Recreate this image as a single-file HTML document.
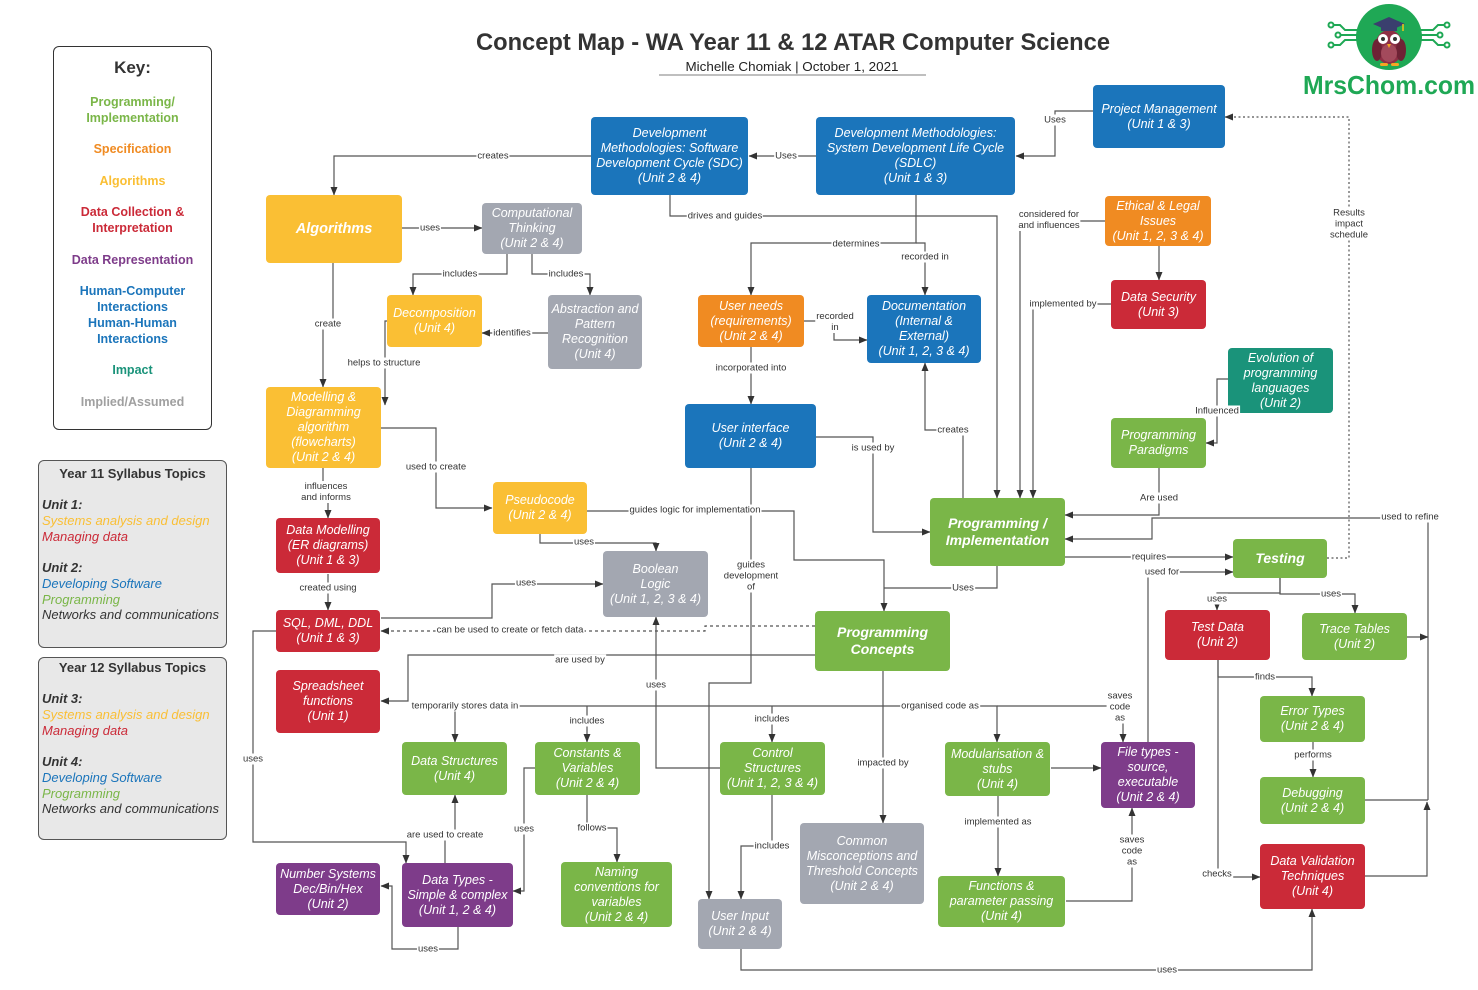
<!DOCTYPE html>
<html><head><meta charset="utf-8">
<style>
body{margin:0;width:1478px;height:990px;background:#fff;position:relative;overflow:hidden;font-family:"Liberation Sans",Arial,sans-serif}
svg{position:absolute;left:0;top:0}
.n{position:absolute;box-sizing:border-box;border-radius:4px;color:#fff;font-style:italic;font-size:12.5px;line-height:15px;display:flex;align-items:center;justify-content:center;text-align:center}
.B{font-weight:bold;font-size:14px;line-height:17px}
.bl{background:#1b75bb}.ye{background:#fabf34}.or{background:#f08b22}.rd{background:#cb2a38}
.pu{background:#7e3c8a}.gr{background:#7ab648}.gy{background:#a3a7b1}.te{background:#1a937a}
.l{position:absolute;transform:translate(-50%,-50%);background:#fff;font-size:9.5px;line-height:11px;color:#333;white-space:nowrap;text-align:center;padding:0 1px}
.key{position:absolute;left:53px;top:46px;width:159px;height:384px;box-sizing:border-box;border:1.5px solid #333;border-radius:6px}
.kt{position:absolute;left:53px;width:159px;text-align:center;font-weight:bold;font-size:12.5px;line-height:16px}
.yb{position:absolute;left:38px;width:189px;box-sizing:border-box;border:1.5px solid #555;border-radius:6px;background:#e8e8e8}
.yt{position:absolute;left:38px;width:189px;text-align:center;font-weight:bold;font-size:13px;line-height:16px;color:#333}
.yl{position:absolute;left:42px;font-style:italic;font-size:13px;line-height:15.75px;color:#333;white-space:nowrap}
</style></head><body>
<svg width="1478" height="990" viewBox="0 0 1478 990">
<defs><marker id="a" markerWidth="9" markerHeight="8" refX="8" refY="4" orient="auto" markerUnits="userSpaceOnUse"><path d="M0,0.5 L8.5,4 L0,7.5z" fill="#333"/></marker></defs>
<text x="793" y="50" text-anchor="middle" font-family="Liberation Sans, Arial, sans-serif" font-size="24" font-weight="bold" fill="#333" textLength="634" lengthAdjust="spacingAndGlyphs">Concept Map - WA Year 11 &amp; 12 ATAR Computer Science</text>
<text x="792" y="71" text-anchor="middle" font-family="Liberation Sans, Arial, sans-serif" font-size="13" fill="#222" textLength="213" lengthAdjust="spacingAndGlyphs">Michelle Chomiak  |  October 1, 2021</text>
<line x1="659" y1="75" x2="926" y2="75" stroke="#999" stroke-width="1.2"/>
<!-- logo -->
<g stroke="#1fa855" stroke-width="2" fill="none">
<path d="M1357,30 H1345 L1340,25 H1333"/><path d="M1357,40 H1345 L1340,45 H1333"/><path d="M1357,35 H1340"/>
<path d="M1421,30 H1433 L1438,25 H1445"/><path d="M1421,40 H1433 L1438,45 H1445"/><path d="M1421,35 H1438"/>
<circle cx="1331" cy="25" r="2.5"/><circle cx="1331" cy="45" r="2.5"/><circle cx="1338" cy="35" r="2.5"/>
<circle cx="1447" cy="25" r="2.5"/><circle cx="1447" cy="45" r="2.5"/><circle cx="1440" cy="35" r="2.5"/>
</g>
<circle cx="1389" cy="37" r="33" fill="#1fa855"/>
<ellipse cx="1389" cy="47" rx="14" ry="17" fill="#8e2f45"/>
<ellipse cx="1377" cy="50" rx="5" ry="11" fill="#6e2235"/><ellipse cx="1401" cy="50" rx="5" ry="11" fill="#6e2235"/>
<ellipse cx="1389" cy="53" rx="8" ry="9" fill="#a34a5c"/>
<circle cx="1383" cy="39" r="5" fill="#fff"/><circle cx="1395" cy="39" r="5" fill="#fff"/>
<circle cx="1383" cy="39" r="2" fill="#333"/><circle cx="1395" cy="39" r="2" fill="#333"/>
<path d="M1387,44 L1391,44 L1389,48z" fill="#f5a623"/>
<path d="M1373,24 L1389,17 L1405,24 L1389,31z" fill="#3a3f6e"/><rect x="1381" y="26" width="16" height="5" fill="#3a3f6e"/>
<path d="M1403,24 V31" stroke="#f5c518" stroke-width="1.5"/>
<rect x="1380" y="63" width="8" height="3" rx="1.5" fill="#f5a623"/><rect x="1391" y="63" width="8" height="3" rx="1.5" fill="#f5a623"/>
<text x="1389" y="94" text-anchor="middle" font-family="Liberation Sans, Arial, sans-serif" font-size="26" font-weight="bold" fill="#1fa855" textLength="172" lengthAdjust="spacingAndGlyphs">MrsChom.com</text>

<g stroke="#555" stroke-width="1.2" fill="none">
<path d="M591,156 H334 V195" marker-end="url(#a)"/>
<path d="M816,156 H749" marker-end="url(#a)"/>
<path d="M1093,111 H1055 V156 H1016" marker-end="url(#a)"/>
<path d="M402,228 H482" marker-end="url(#a)"/>
<path d="M507,254 V274 H413 V295" marker-end="url(#a)"/>
<path d="M532,254 V274 H590 V295" marker-end="url(#a)"/>
<path d="M548,333 H482" marker-end="url(#a)"/>
<path d="M333,263 V320 H323 V387" marker-end="url(#a)"/>
<path d="M387,321 H385 V405" marker-end="url(#a)"/>
<path d="M381,428 H436 V508 H492" marker-end="url(#a)"/>
<path d="M323,468 V490 H328 V518" marker-end="url(#a)"/>
<path d="M328,574 V610" marker-end="url(#a)"/>
<path d="M381,618 H492 V584 H603" marker-end="url(#a)"/>
<path d="M815,626 H705 V631 H381" stroke-dasharray="3,3" marker-end="url(#a)"/>
<path d="M540,534 V543 H656 V551" marker-end="url(#a)"/>
<path d="M587,511 H794 V560 H884 V611" marker-end="url(#a)"/>
<path d="M997,566 V588 H884"/>
<path d="M751,347 V404" marker-end="url(#a)"/>
<path d="M916,195 V243 H751 V295" marker-end="url(#a)"/>
<path d="M916,243 H925 V295" marker-end="url(#a)"/>
<path d="M804,321 H834 V340 H867" marker-end="url(#a)"/>
<path d="M963,498 V430 H925 V363" marker-end="url(#a)"/>
<path d="M816,437 H873 V532 H930" marker-end="url(#a)"/>
<path d="M670,195 V216 H997 V498" marker-end="url(#a)"/>
<path d="M1105,221 H1020 V498" marker-end="url(#a)"/>
<path d="M1111,304 H1033 V498" marker-end="url(#a)"/>
<path d="M1159,246 V280" marker-end="url(#a)"/>
<path d="M1159,468 V515 H1065" marker-end="url(#a)"/>
<path d="M1228,379 H1217 V443 H1206" marker-end="url(#a)"/>
<path d="M1428,800 V518 H1152 V539 H1065" marker-end="url(#a)"/>
<path d="M1365,800 H1428"/>
<path d="M1365,876 H1427 V802" marker-end="url(#a)"/>
<path d="M1407,637 H1428" marker-end="url(#a)"/>
<path d="M1065,557 H1233" marker-end="url(#a)"/>
<path d="M1148,742 V572 H1233" marker-end="url(#a)"/>
<path d="M1327,558 H1349 V117 H1225" stroke-dasharray="2,2.5" marker-end="url(#a)"/>
<path d="M1280,578 V593 H1217 V610" marker-end="url(#a)"/>
<path d="M1280,578 V594 H1355 V613" marker-end="url(#a)"/>
<path d="M1218,660 V677 H1312 V696" marker-end="url(#a)"/>
<path d="M1313,742 V777" marker-end="url(#a)"/>
<path d="M1218,660 V877 H1260" marker-end="url(#a)"/>
<path d="M751,468 V683 H709 V899" marker-end="url(#a)"/>
<path d="M741,949 V970 H1312 V909" marker-end="url(#a)"/>
<path d="M883,671 V823" marker-end="url(#a)"/>
<path d="M883,706 H455 V742" marker-end="url(#a)"/>
<path d="M587,706 V742" marker-end="url(#a)"/>
<path d="M772,706 V742" marker-end="url(#a)"/>
<path d="M883,706 H997 V742" marker-end="url(#a)"/>
<path d="M997,706 H1123 V742" marker-end="url(#a)"/>
<path d="M1051,768 H1101" marker-end="url(#a)"/>
<path d="M998,795 V876" marker-end="url(#a)"/>
<path d="M1066,901 H1132 V808" marker-end="url(#a)"/>
<path d="M772,795 V846 H741 V899" marker-end="url(#a)"/>
<path d="M720,768 H656 V617" marker-end="url(#a)"/>
<path d="M815,655 H408 V701 H381" marker-end="url(#a)"/>
<path d="M458,927 V949 H392 V886 H381" marker-end="url(#a)"/>
<path d="M445,863 V835 H455 V795" marker-end="url(#a)"/>
<path d="M276,631 H253 V842 H406 V863" marker-end="url(#a)"/>
<path d="M535,768 H524 V891 H513" marker-end="url(#a)"/>
<path d="M587,795 V828 H617 V862" marker-end="url(#a)"/>
</g>
</svg>

<!-- Key -->
<div class="key"></div>
<div class="kt" style="top:58px;font-size:17px;line-height:20px;color:#333">Key:</div>
<div class="kt" style="top:94px;color:#7ab648">Programming/<br>Implementation</div>
<div class="kt" style="top:141px;color:#f08b22">Specification</div>
<div class="kt" style="top:173px;color:#fabf34">Algorithms</div>
<div class="kt" style="top:204px;color:#cb2a38">Data Collection &amp;<br>Interpretation</div>
<div class="kt" style="top:252px;color:#7e3c8a">Data Representation</div>
<div class="kt" style="top:283px;color:#1b75bb">Human-Computer<br>Interactions<br>Human-Human<br>Interactions</div>
<div class="kt" style="top:362px;color:#1a937a">Impact</div>
<div class="kt" style="top:394px;color:#a0a0a0">Implied/Assumed</div>

<div class="yb" style="top:460px;height:188px"></div>
<div class="yt" style="top:466px">Year 11 Syllabus Topics</div>
<div class="yl" style="top:497px"><b>Unit 1:</b><br><span style="color:#fabf34">Systems analysis and design</span><br><span style="color:#cb2a38">Managing data</span><br><br><b>Unit 2:</b><br><span style="color:#1b75bb">Developing Software</span><br><span style="color:#7ab648">Programming</span><br>Networks and communications</div>
<div class="yb" style="top:657px;height:183px"></div>
<div class="yt" style="top:660px">Year 12 Syllabus Topics</div>
<div class="yl" style="top:691px"><b>Unit 3:</b><br><span style="color:#fabf34">Systems analysis and design</span><br><span style="color:#cb2a38">Managing data</span><br><br><b>Unit 4:</b><br><span style="color:#1b75bb">Developing Software</span><br><span style="color:#7ab648">Programming</span><br>Networks and communications</div>

<!-- Nodes -->
<div class="n bl" style="left:1093px;top:85px;width:132px;height:63px">Project Management<br>(Unit 1 &amp; 3)</div>
<div class="n bl" style="left:816px;top:117px;width:199px;height:78px">Development Methodologies:<br>System Development Life Cycle<br>(SDLC)<br>(Unit 1 &amp; 3)</div>
<div class="n bl" style="left:591px;top:117px;width:157px;height:78px">Development<br>Methodologies: Software<br>Development Cycle (SDC)<br>(Unit 2 &amp; 4)</div>
<div class="n ye B" style="left:266px;top:195px;width:136px;height:68px;font-size:14.5px">Algorithms</div>
<div class="n gy" style="left:482px;top:203px;width:100px;height:51px">Computational<br>Thinking<br>(Unit 2 &amp; 4)</div>
<div class="n ye" style="left:387px;top:295px;width:95px;height:52px">Decomposition<br>(Unit 4)</div>
<div class="n gy" style="left:548px;top:295px;width:94px;height:74px">Abstraction and<br>Pattern<br>Recognition<br>(Unit 4)</div>
<div class="n ye" style="left:266px;top:387px;width:115px;height:81px">Modelling &amp;<br>Diagramming<br>algorithm<br>(flowcharts)<br>(Unit 2 &amp; 4)</div>
<div class="n rd" style="left:276px;top:518px;width:104px;height:55px">Data Modelling<br>(ER diagrams)<br>(Unit 1 &amp; 3)</div>
<div class="n rd" style="left:276px;top:610px;width:104px;height:42px">SQL, DML, DDL<br>(Unit 1 &amp; 3)</div>
<div class="n rd" style="left:276px;top:670px;width:104px;height:63px">Spreadsheet<br>functions<br>(Unit 1)</div>
<div class="n ye" style="left:493px;top:482px;width:94px;height:52px">Pseudocode<br>(Unit 2 &amp; 4)</div>
<div class="n gy" style="left:603px;top:551px;width:105px;height:66px">Boolean<br>Logic<br>(Unit 1, 2, 3 &amp; 4)</div>
<div class="n or" style="left:698px;top:295px;width:106px;height:52px">User needs<br>(requirements)<br>(Unit 2 &amp; 4)</div>
<div class="n bl" style="left:867px;top:295px;width:114px;height:68px">Documentation<br>(Internal &amp;<br>External)<br>(Unit 1, 2, 3 &amp; 4)</div>
<div class="n bl" style="left:685px;top:404px;width:131px;height:64px">User interface<br>(Unit 2 &amp; 4)</div>
<div class="n or" style="left:1105px;top:196px;width:106px;height:50px">Ethical &amp; Legal<br>Issues<br>(Unit 1, 2, 3 &amp; 4)</div>
<div class="n rd" style="left:1111px;top:280px;width:95px;height:49px">Data Security<br>(Unit 3)</div>
<div class="n te" style="left:1228px;top:348px;width:105px;height:65px">Evolution of<br>programming<br>languages<br>(Unit 2)</div>
<div class="n gr" style="left:1111px;top:418px;width:95px;height:50px">Programming<br>Paradigms</div>
<div class="n gr B" style="left:930px;top:498px;width:135px;height:68px">Programming /<br>Implementation</div>
<div class="n gr B" style="left:1233px;top:539px;width:94px;height:39px">Testing</div>
<div class="n gr B" style="left:815px;top:611px;width:135px;height:60px">Programming<br>Concepts</div>
<div class="n rd" style="left:1165px;top:610px;width:105px;height:50px">Test Data<br>(Unit 2)</div>
<div class="n gr" style="left:1302px;top:613px;width:105px;height:47px">Trace Tables<br>(Unit 2)</div>
<div class="n gr" style="left:1260px;top:696px;width:105px;height:46px">Error Types<br>(Unit 2 &amp; 4)</div>
<div class="n gr" style="left:1260px;top:777px;width:105px;height:47px">Debugging<br>(Unit 2 &amp; 4)</div>
<div class="n rd" style="left:1260px;top:844px;width:105px;height:65px">Data Validation<br>Techniques<br>(Unit 4)</div>
<div class="n pu" style="left:1101px;top:742px;width:94px;height:66px">File types -<br>source,<br>executable<br>(Unit 2 &amp; 4)</div>
<div class="n gr" style="left:945px;top:742px;width:105px;height:54px">Modularisation &amp;<br>stubs<br>(Unit 4)</div>
<div class="n gr" style="left:938px;top:876px;width:127px;height:51px">Functions &amp;<br>parameter passing<br>(Unit 4)</div>
<div class="n gy" style="left:800px;top:823px;width:124px;height:81px">Common<br>Misconceptions and<br>Threshold Concepts<br>(Unit 2 &amp; 4)</div>
<div class="n gr" style="left:720px;top:742px;width:105px;height:53px">Control<br>Structures<br>(Unit 1, 2, 3 &amp; 4)</div>
<div class="n gy" style="left:698px;top:899px;width:84px;height:50px">User Input<br>(Unit 2 &amp; 4)</div>
<div class="n gr" style="left:535px;top:742px;width:105px;height:53px">Constants &amp;<br>Variables<br>(Unit 2 &amp; 4)</div>
<div class="n gr" style="left:561px;top:862px;width:111px;height:65px">Naming<br>conventions for<br>variables<br>(Unit 2 &amp; 4)</div>
<div class="n gr" style="left:402px;top:742px;width:105px;height:53px">Data Structures<br>(Unit 4)</div>
<div class="n pu" style="left:402px;top:863px;width:111px;height:64px">Data Types -<br>Simple &amp; complex<br>(Unit 1, 2 &amp; 4)</div>
<div class="n pu" style="left:276px;top:863px;width:104px;height:52px">Number Systems<br>Dec/Bin/Hex<br>(Unit 2)</div>

<!-- Labels -->
<div class="l" style="left:493px;top:156px">creates</div>
<div class="l" style="left:786px;top:156px">Uses</div>
<div class="l" style="left:1055px;top:120px">Uses</div>
<div class="l" style="left:430px;top:228px">uses</div>
<div class="l" style="left:460px;top:274px">includes</div>
<div class="l" style="left:566px;top:274px">includes</div>
<div class="l" style="left:512px;top:333px">identifies</div>
<div class="l" style="left:328px;top:324px">create</div>
<div class="l" style="left:384px;top:363px">helps to structure</div>
<div class="l" style="left:436px;top:467px">used to create</div>
<div class="l" style="left:326px;top:492px">influences<br>and informs</div>
<div class="l" style="left:328px;top:588px">created using</div>
<div class="l" style="left:526px;top:583px">uses</div>
<div class="l" style="left:510px;top:630px">can be used to create or fetch data</div>
<div class="l" style="left:584px;top:542px">uses</div>
<div class="l" style="left:695px;top:510px">guides logic for implementation</div>
<div class="l" style="left:963px;top:588px">Uses</div>
<div class="l" style="left:751px;top:368px">incorporated into</div>
<div class="l" style="left:856px;top:244px">determines</div>
<div class="l" style="left:925px;top:257px">recorded in</div>
<div class="l" style="left:835px;top:322px">recorded<br>in</div>
<div class="l" style="left:953px;top:430px">creates</div>
<div class="l" style="left:873px;top:448px">is used by</div>
<div class="l" style="left:725px;top:216px">drives and guides</div>
<div class="l" style="left:1049px;top:220px">considered for<br>and influences</div>
<div class="l" style="left:1063px;top:304px">implemented by</div>
<div class="l" style="left:1159px;top:498px">Are used</div>
<div class="l" style="left:1217px;top:411px">Influenced</div>
<div class="l" style="left:1410px;top:517px">used to refine</div>
<div class="l" style="left:1149px;top:557px">requires</div>
<div class="l" style="left:1162px;top:572px">used for</div>
<div class="l" style="left:1349px;top:224px">Results<br>impact<br>schedule</div>
<div class="l" style="left:1217px;top:599px">uses</div>
<div class="l" style="left:1331px;top:594px">uses</div>
<div class="l" style="left:1265px;top:677px">finds</div>
<div class="l" style="left:1313px;top:755px">performs</div>
<div class="l" style="left:1217px;top:874px">checks</div>
<div class="l" style="left:751px;top:576px">guides<br>development<br>of</div>
<div class="l" style="left:1167px;top:970px">uses</div>
<div class="l" style="left:883px;top:763px">impacted by</div>
<div class="l" style="left:465px;top:706px">temporarily stores data in</div>
<div class="l" style="left:587px;top:721px">includes</div>
<div class="l" style="left:772px;top:719px">includes</div>
<div class="l" style="left:940px;top:706px">organised code as</div>
<div class="l" style="left:1120px;top:707px">saves<br>code<br>as</div>
<div class="l" style="left:998px;top:822px">implemented as</div>
<div class="l" style="left:1132px;top:851px">saves<br>code<br>as</div>
<div class="l" style="left:772px;top:846px">includes</div>
<div class="l" style="left:656px;top:685px">uses</div>
<div class="l" style="left:580px;top:660px">are used by</div>
<div class="l" style="left:428px;top:949px">uses</div>
<div class="l" style="left:445px;top:835px">are used to create</div>
<div class="l" style="left:253px;top:759px">uses</div>
<div class="l" style="left:524px;top:829px">uses</div>
<div class="l" style="left:592px;top:828px">follows</div>
</body></html>
